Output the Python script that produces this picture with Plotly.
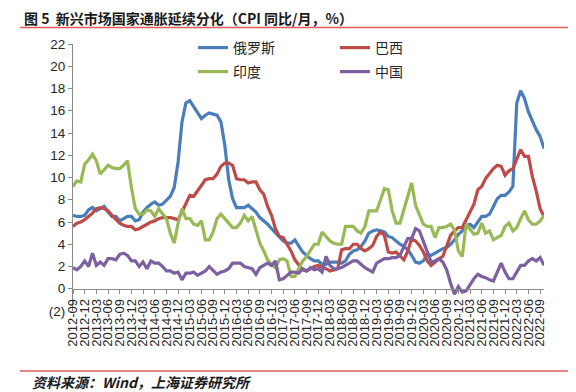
import pandas as pd
import plotly.graph_objects as go

months = list(pd.period_range("2012-09", periods=122, freq="M").strftime("%Y-%m"))

russia = [6.6, 6.5, 6.5, 6.6,
          7.1, 7.3, 7.0, 7.2, 7.4, 6.9, 6.5, 6.5, 6.1, 6.3, 6.5, 6.5,
          6.1, 6.2, 6.9, 7.3, 7.6, 7.8, 7.5, 7.6, 8.0, 8.3, 9.1, 11.4,
          15.0, 16.7, 16.9, 16.4, 15.8, 15.3, 15.6, 15.8, 15.7, 15.6, 15.0, 12.9,
          9.8, 8.1, 7.3, 7.3, 7.3, 7.5, 7.2, 6.9, 6.4, 6.1, 5.8, 5.4,
          5.0, 4.6, 4.3, 4.1, 4.1, 4.4, 3.9, 3.3, 3.0, 2.7, 2.5, 2.5,
          2.2, 2.2, 2.4, 2.4, 2.4, 2.3, 2.5, 3.1, 3.4, 3.5, 3.8, 4.3,
          5.0, 5.2, 5.3, 5.2, 5.1, 4.7, 4.6, 4.3, 4.0, 3.8, 3.5, 3.0,
          2.4, 2.3, 2.5, 3.1, 3.0, 3.2, 3.4, 3.6, 3.7, 4.0, 4.4, 4.9,
          5.2, 5.7, 5.8, 5.5, 6.0, 6.5, 6.5, 6.7, 7.4, 8.1, 8.4, 8.4,
          8.7, 9.2, 16.7, 17.8, 17.1, 15.9, 15.1, 14.3, 13.7, 12.6]

brazil = [5.6, 5.9, 6.0, 6.2,
          6.5, 6.8, 7.2, 7.3, 7.2, 7.0, 6.6, 6.2, 5.9, 5.7, 5.6, 5.6,
          5.3, 5.4, 5.6, 5.8, 6.0, 6.1, 6.3, 6.4, 6.4, 6.4, 6.3, 6.2,
          6.9, 7.7, 8.4, 8.3, 8.8, 9.3, 9.8, 9.9, 9.9, 10.3, 11.0, 11.3,
          11.3, 11.1, 9.9, 9.8, 9.8, 9.5, 9.6, 9.6, 8.9, 8.5, 7.4, 6.6,
          5.4, 4.7, 4.6, 4.0, 3.4, 2.6, 2.1, 1.7, 1.6, 1.8, 2.0, 2.1,
          1.9, 1.8, 1.6, 1.7, 1.8, 3.5, 3.6, 3.6, 4.0, 4.0, 3.6, 3.4,
          3.6, 3.9, 4.7, 5.1, 4.8, 3.3, 3.2, 3.3, 2.9, 2.6, 3.4, 4.5,
          4.3, 3.9, 3.3, 2.5, 2.1, 2.4, 2.7, 2.9, 3.9, 4.8, 5.2, 5.5,
          5.5, 6.2, 6.9, 7.6, 8.9, 9.2, 9.9, 10.4, 10.8, 11.1, 11.0, 10.2,
          10.6, 10.8, 11.7, 12.5, 11.9, 11.9, 10.1, 8.8, 7.2, 6.5]

india = [9.2, 9.7, 9.6, 11.2,
         11.6, 12.1, 11.5, 10.3, 10.7, 11.1, 10.9, 10.8, 10.8, 11.1, 11.5, 9.1,
         7.2, 6.7, 6.7, 7.1, 7.0, 6.5, 7.2, 6.8, 6.3, 5.0, 4.1, 5.9,
         7.2, 6.3, 6.3, 5.8, 5.7, 6.1, 4.4, 4.4, 5.1, 6.3, 6.7, 6.3,
         5.9, 5.5, 5.5, 5.9, 6.6, 6.1, 6.5, 5.3, 4.1, 3.4, 2.6, 2.2,
         1.9, 2.6, 2.7, 2.5, 1.1, 1.1, 1.8, 2.5, 2.9, 3.4, 4.0, 4.0,
         5.1, 4.7, 4.3, 4.1, 4.0, 4.0, 5.6, 5.6, 5.6, 5.2, 5.0, 5.6,
         7.0, 7.0, 7.0, 8.0, 9.0, 8.9, 7.0, 5.9, 5.9, 7.1, 8.3, 9.5,
         7.5, 6.6, 5.8, 5.6, 5.6, 4.6, 5.5, 5.5, 5.6, 5.8, 5.3, 3.4,
         2.9, 5.8, 5.3, 4.9, 5.0, 5.9, 5.0, 5.2, 4.4, 4.6, 4.8, 5.6,
         5.9, 5.2, 5.5, 6.3, 7.0, 6.2, 5.8, 5.8, 6.1, 6.6]

china = [1.9, 1.7, 2.0, 2.5,
         2.0, 3.2, 2.1, 2.4, 2.1, 2.7, 2.7, 2.6, 3.1, 3.2, 3.0, 2.5,
         2.5, 2.0, 2.4, 1.8, 2.5, 2.3, 2.3, 2.0, 1.6, 1.6, 1.4, 1.5,
         0.8, 1.4, 1.4, 1.5, 1.2, 1.4, 1.6, 2.0, 1.6, 1.3, 1.5, 1.6,
         1.8, 2.3, 2.3, 2.3, 2.0, 1.9, 1.8, 1.3, 1.9, 2.1, 2.3, 2.1,
         2.5, 0.8, 0.9, 1.2, 1.5, 1.5, 1.4, 1.8, 1.6, 1.9, 1.7, 1.8,
         1.5, 2.9, 2.1, 1.8, 1.8, 1.9, 2.1, 2.3, 2.5, 2.5, 2.2, 1.9,
         1.7, 1.5, 2.3, 2.5, 2.7, 2.7, 2.8, 2.8, 3.0, 3.8, 4.5, 4.5,
         5.4, 5.2, 4.3, 3.3, 2.4, 2.5, 2.7, 2.4, 1.7, 0.5, -0.5, 0.2,
         -0.3, -0.2, 0.4, 0.9, 1.3, 1.1, 1.0, 0.8, 0.7, 1.5, 2.3, 1.5,
         0.9, 0.9, 1.5, 2.1, 2.1, 2.5, 2.7, 2.5, 2.8, 2.1]

series_names = ["俄罗斯", "巴西", "印度", "中国"]
colors = ["#4A7EBB", "#BE4B48", "#98B954", "#7D60A0"]
y_ticks = list(range(-2, 23, 2))
y_ticktext = ["(2)"] + [str(v) for v in y_ticks[1:]]
x_ticks = months[::3]

# page body has an 8px default margin; work in window (screen) pixels
OFF = 8
SW, SH = 576, 392
W, H = SW - OFF, SH - OFF
PL, PR, PT, PB = 73, 544, 44, 311          # plot area edges in window pixels
L, R, T, B = PL - OFF, SW - PR, PT - OFF, SH - PB
pw, ph = PR - PL, PB - PT


def px_x(px):
    return (px - PL) / pw


def px_y(py):
    return (PB - py) / ph


fig = go.Figure()
legend_names = ["legend", "legend2", "legend3", "legend4"]
for name, vals, col, lg in zip(series_names, [russia, brazil, india, china], colors, legend_names):
    fig.add_trace(go.Scatter(x=months, y=vals, mode="lines", name=name,
                             line=dict(color=col, width=3.2), legend=lg))

leg_pos = [(193, 48), (335, 48), (193, 72), (335, 72)]
leg_common = dict(font=dict(family="Noto Sans CJK SC", size=14, color="#262626"),
                  bgcolor="rgba(0,0,0,0)", xanchor="left", yanchor="middle")
layout_legends = {}
for lg, (lx, ly) in zip(legend_names, leg_pos):
    layout_legends[lg] = dict(x=px_x(lx), y=px_y(ly), **leg_common)

axis_col = "#898989"
fig.update_layout(
    width=W, height=H,
    margin=dict(l=L, r=R, t=T, b=B),
    paper_bgcolor="white", plot_bgcolor="white",
    showlegend=True,
    xaxis=dict(type="category", range=[0, 121], anchor="free", position=2 / 24,
               showline=True, linecolor=axis_col, linewidth=1,
               ticks="outside", ticklen=4, tickcolor=axis_col,
               tickmode="array", tickvals=x_ticks, ticktext=x_ticks,
               tickangle=-90, showgrid=False, zeroline=False,
               tickfont=dict(family="Liberation Sans", size=13, color="#262626")),
    yaxis=dict(range=[-2, 22], tickmode="array", tickvals=y_ticks, ticktext=y_ticktext,
               showline=True, linecolor=axis_col, linewidth=1,
               ticks="outside", ticklen=4, tickcolor=axis_col,
               showgrid=False, zeroline=False,
               tickfont=dict(family="Liberation Sans", size=13.5, color="#262626")),
    **layout_legends,
    shapes=[
        dict(type="line", xref="paper", yref="paper", x0=px_x(20), x1=px_x(571),
             y0=px_y(27.5), y1=px_y(27.5), line=dict(color="#E35A5A", width=1.3)),
        dict(type="line", xref="paper", yref="paper", x0=px_x(20), x1=px_x(571),
             y0=px_y(371), y1=px_y(371), line=dict(color="#E35A5A", width=1.3)),
    ],
    annotations=[
        dict(xref="paper", yref="paper", x=px_x(22), y=px_y(18), xanchor="left", yanchor="middle",
             text="<b>图 5  新兴市场国家通胀延续分化（CPI 同比/月，%）</b>", showarrow=False,
             font=dict(family="Noto Sans CJK SC", size=14, color="#1a1a1a")),
        dict(xref="paper", yref="paper", x=px_x(30), y=px_y(382), xanchor="left", yanchor="middle",
             text="<b><i>资料来源：Wind，上海证券研究所</i></b>", showarrow=False,
             font=dict(family="Noto Sans CJK SC", size=14, color="#1a1a1a")),
    ],
)

fig.write_html("out.html")
